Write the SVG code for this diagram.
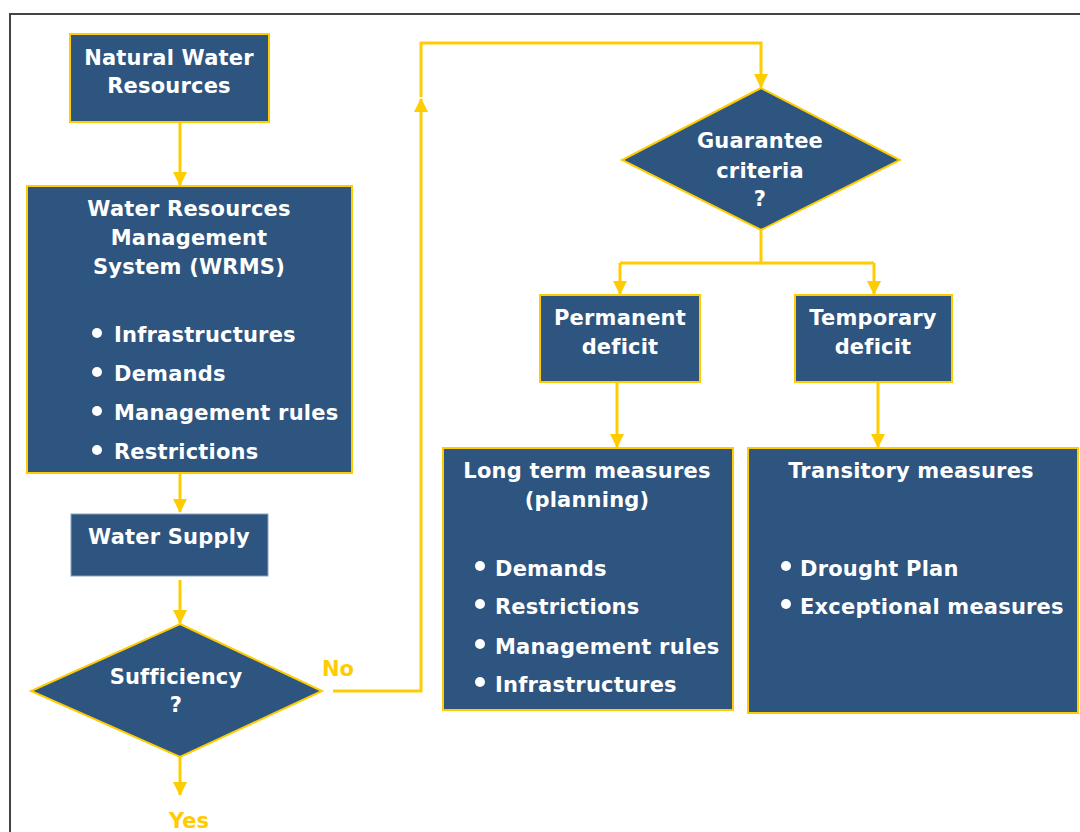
<svg xmlns="http://www.w3.org/2000/svg" width="1080" height="832" viewBox="0 0 1080 832">
<defs>
<marker id="ah" markerWidth="14" markerHeight="14" viewBox="0 0 14 14" refX="13" refY="7" orient="auto" markerUnits="userSpaceOnUse">
<path d="M0,0 L14,7 L0,14 Z" fill="#ffcc00"/>
</marker>
<style>
.box{fill:#2d5580;stroke:#ffcc00;stroke-width:2}
.box2{fill:#2d5580;stroke:#8aa3c0;stroke-width:1}
.t{font-family:"DejaVu Sans",Verdana,sans-serif;font-weight:bold;font-size:21px;letter-spacing:0.2px;fill:#ffffff}
.c{text-anchor:middle}
.y{font-family:"DejaVu Sans",Verdana,sans-serif;font-weight:bold;font-size:21px;fill:#ffcc00}
.ln{fill:none;stroke:#ffcc00;stroke-width:3}
.dot{fill:#ffffff}
</style>
</defs>
<rect width="1080" height="832" fill="#ffffff"/>
<path d="M10,832 L10,14 L1080,14" fill="none" stroke="#444444" stroke-width="2"/>

<g id="connectors">
<path class="ln" d="M180,122 L180,185" marker-end="url(#ah)"/>
<path class="ln" d="M180,473 L180,512" marker-end="url(#ah)"/>
<path class="ln" d="M180,580 L180,623" marker-end="url(#ah)"/>
<path class="ln" d="M180,757 L180,795" marker-end="url(#ah)"/>
<path class="ln" d="M333,691 L421,691 L421,99" marker-end="url(#ah)"/>
<path class="ln" d="M421,97 L421,43 L761,43 L761,87" marker-end="url(#ah)"/>
<path class="ln" d="M761,230 L761,263"/>
<path class="ln" d="M620,263 L874,263"/>
<path class="ln" d="M620,263 L620,294" marker-end="url(#ah)"/>
<path class="ln" d="M874,263 L874,294" marker-end="url(#ah)"/>
<path class="ln" d="M617,382 L617,447" marker-end="url(#ah)"/>
<path class="ln" d="M878,382 L878,447" marker-end="url(#ah)"/>
</g>

<g id="natural">
<rect class="box" x="70" y="34" width="199" height="88"/>
<text class="t c" x="169" y="65">Natural Water</text>
<text class="t c" x="169" y="93">Resources</text>
</g>

<g id="wrms">
<rect class="box" x="27" y="186" width="325" height="287"/>
<text class="t c" x="189" y="216">Water Resources</text>
<text class="t c" x="189" y="245">Management</text>
<text class="t c" x="189" y="274">System (WRMS)</text>
<circle class="dot" cx="97" cy="333" r="5"/>
<text class="t" x="114" y="342">Infrastructures</text>
<circle class="dot" cx="97" cy="372" r="5"/>
<text class="t" x="114" y="381">Demands</text>
<circle class="dot" cx="97" cy="411" r="5"/>
<text class="t" x="114" y="420">Management rules</text>
<circle class="dot" cx="97" cy="450" r="5"/>
<text class="t" x="114" y="459">Restrictions</text>
</g>

<g id="supply">
<rect class="box2" x="71" y="514" width="197" height="62"/>
<text class="t c" x="169" y="544">Water Supply</text>
</g>

<g id="sufficiency">
<polygon class="box" points="180,624 322,691 180,757 31,691"/>
<text class="t c" x="176" y="684">Sufficiency</text>
<text class="t c" x="176" y="712">?</text>
</g>

<g id="labels">
<text class="y" x="322" y="676">No</text>
<text class="y" x="169" y="828">Yes</text>
</g>

<g id="guarantee">
<polygon class="box" points="761,88 900,160 761,230 622,160"/>
<text class="t c" x="760" y="148">Guarantee</text>
<text class="t c" x="760" y="178">criteria</text>
<text class="t c" x="760" y="206">?</text>
</g>

<g id="permanent">
<rect class="box" x="540" y="295" width="160" height="87"/>
<text class="t c" x="620" y="325">Permanent</text>
<text class="t c" x="620" y="354">deficit</text>
</g>

<g id="temporary">
<rect class="box" x="795" y="295" width="157" height="87"/>
<text class="t c" x="873" y="325">Temporary</text>
<text class="t c" x="873" y="354">deficit</text>
</g>

<g id="longterm">
<rect class="box" x="443" y="448" width="290" height="262"/>
<text class="t c" x="587" y="478">Long term measures</text>
<text class="t c" x="587" y="507">(planning)</text>
<circle class="dot" cx="480" cy="566" r="5"/>
<text class="t" x="495" y="576">Demands</text>
<circle class="dot" cx="480" cy="604" r="5"/>
<text class="t" x="495" y="614">Restrictions</text>
<circle class="dot" cx="480" cy="644" r="5"/>
<text class="t" x="495" y="654">Management rules</text>
<circle class="dot" cx="480" cy="682" r="5"/>
<text class="t" x="495" y="692">Infrastructures</text>
</g>

<g id="transitory">
<rect class="box" x="748" y="448" width="330" height="265"/>
<text class="t c" x="911" y="478">Transitory measures</text>
<circle class="dot" cx="786" cy="566" r="5"/>
<text class="t" x="800" y="576">Drought Plan</text>
<circle class="dot" cx="786" cy="604" r="5"/>
<text class="t" x="800" y="614">Exceptional measures</text>
</g>
</svg>
